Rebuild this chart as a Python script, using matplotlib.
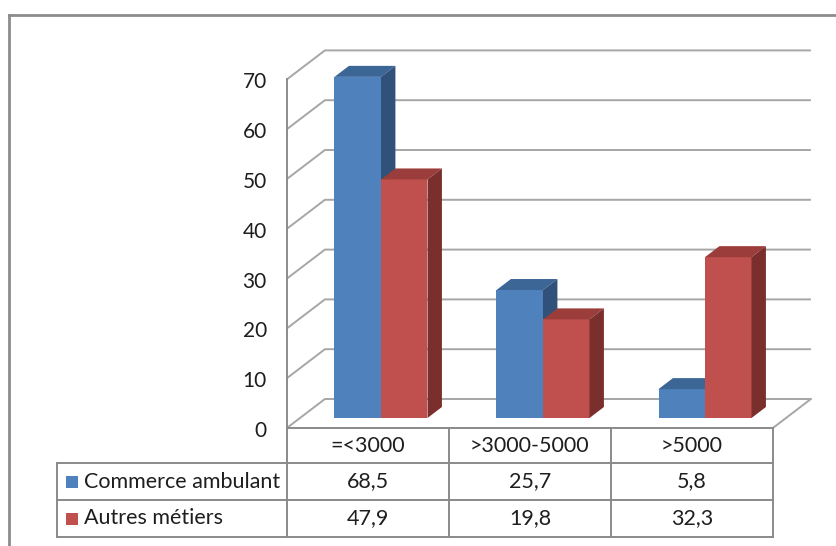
import numpy as np
import matplotlib.pyplot as plt
from matplotlib.patches import Polygon, Rectangle

# data
categories = ["=<3000", ">3000-5000", ">5000"]
series_names = ["Commerce ambulant", "Autres métiers"]
commerce = [68.5, 25.7, 5.8]
autres = [47.9, 19.8, 32.3]
y_ticks = [0, 10, 20, 30, 40, 50, 60, 70]

series = [commerce, autres]
front_col = ['#4F81BD', '#C0504D']
top_col = ['#3C6696', '#9B3D3A']
side_col = ['#30527A', '#7A2F2D']
line_col = '#a6a6a6'
txt_col = '#1e1e1e'

plt.rcParams['font.family'] = ['Lato', 'DejaVu Sans']

W, H = 837, 546
fig = plt.figure(figsize=(W / 100, H / 100), dpi=100)
ax = fig.add_axes([0, 0, 1, 1])
ax.axis('off')

# pixel layout -> data scale (x: category index, y: value)
X0, SX = 381, 162
Y0, SY = 418, 4.98
ax.set_xlim(-X0 / SX, (W - X0) / SX)
ax.set_ylim((Y0 - H) / SY, Y0 / SY)


def px(x, y):
    return (x - X0) / SX, (Y0 - y) / SY


# depth of the 3d box
DX, DY = 38 / SX, 29 / SY
D_FRONT, D_BACK, D_BAR = -10 / 29, 19 / 29, 11 / 29


def shift(x, v, d):
    return x + d * DX, v + d * DY


n = len(categories)
left, right = -0.5, n - 0.5

# walls: gridlines
for v in y_ticks:
    p1 = shift(left, v, D_FRONT)
    p2 = shift(left, v, D_BACK)
    p3 = shift(right, v, D_BACK)
    ax.plot([p1[0], p2[0], p3[0]], [p1[1], p2[1], p3[1]],
            color=line_col, lw=1.4, zorder=1, solid_capstyle='butt')
    tx, ty = shift(left, v, D_FRONT)
    ax.text(tx - 20 / SX, ty - 3 / SY, str(v), ha='right', va='center',
            fontsize=15, color=txt_col)

# front vertical axis
a, b = shift(left, 0, D_FRONT), shift(left, max(y_ticks), D_FRONT)
ax.plot([a[0], b[0]], [a[1], b[1]], color='#8c8c8c', lw=1.4, zorder=2)
# floor right edge
a, b = shift(right, 0, D_FRONT), shift(right, 0, D_BACK)
ax.plot([a[0], b[0]], [a[1], b[1]], color=line_col, lw=1.4, zorder=1)

# bars
bar_w = 46.5 / SX
x = np.arange(n)
ddx, ddy = D_BAR * DX, D_BAR * DY
for s, vals in enumerate(series):
    xs = x + (s - 0.5) * bar_w
    ax.bar(xs, vals, width=bar_w, color=front_col[s], zorder=3 + s)
    for xc, v in zip(xs, vals):
        xl, xr = xc - bar_w / 2, xc + bar_w / 2
        ax.add_patch(Polygon([(xl, v), (xr, v), (xr + ddx, v + ddy), (xl + ddx, v + ddy)],
                             closed=True, color=top_col[s], zorder=3 + s, lw=0))
        ax.add_patch(Polygon([(xr, 0), (xr, v), (xr + ddx, v + ddy), (xr + ddx, ddy)],
                             closed=True, color=side_col[s], zorder=3 + s, lw=0))

# data table
tab_col = '#8a8a8a'
col_edges = [shift(e, 0, D_FRONT)[0] for e in np.arange(n + 1) - 0.5]
y_top = shift(0, 0, D_FRONT)[1]
row_px = [463, 500, 537]
row_y = [px(0, r)[1] for r in row_px]
x_lab = px(57, 0)[0]

for xe in col_edges:
    ax.plot([xe, xe], [y_top, row_y[-1]], color=tab_col, lw=1.4, zorder=2)
ax.plot([col_edges[0], col_edges[-1]], [y_top, y_top], color=tab_col, lw=1.4, zorder=2)
for ry in row_y:
    ax.plot([x_lab, col_edges[-1]], [ry, ry], color=tab_col, lw=1.4, zorder=2)
ax.plot([x_lab, x_lab], [row_y[0], row_y[-1]], color=tab_col, lw=1.4, zorder=2)

head_y = (y_top + row_y[0]) / 2
centers = [(col_edges[i] + col_edges[i + 1]) / 2 for i in range(n)]
for c, lab in zip(centers, categories):
    ax.text(c, head_y, lab, ha='center', va='center', fontsize=15.5, color=txt_col)

for s, vals in enumerate(series):
    ry = (row_y[s] + row_y[s + 1]) / 2
    for c, v in zip(centers, vals):
        ax.text(c, ry, f"{v:.1f}".replace('.', ','), ha='center', va='center',
                fontsize=15.5, color=txt_col)
    kx, ky = px(66, 0)[0], ry - 6 / SY
    ax.add_patch(Rectangle((kx, ky), 12 / SX, 12 / SY, color=front_col[s], lw=0))
    ax.text(px(84, 0)[0], ry, series_names[s], ha='left', va='center',
            fontsize=15.5, color=txt_col)

# chart border
bx, by = px(9, 15)
ax.plot([bx, px(W, 0)[0]], [by, by], color='#8c8c8c', lw=2, zorder=2)
ax.plot([bx, bx], [by, px(0, H)[1]], color='#8c8c8c', lw=2, zorder=2)

fig.savefig('out.png', dpi=100)
